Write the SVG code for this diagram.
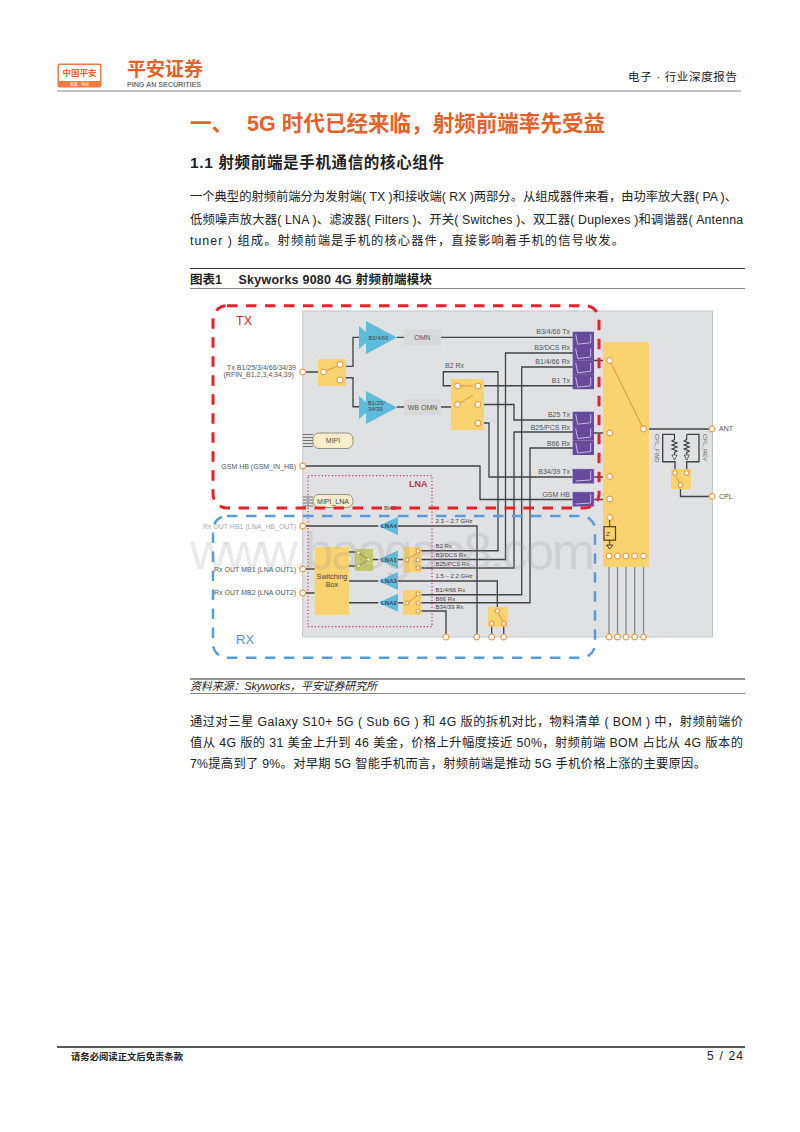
<svg xmlns="http://www.w3.org/2000/svg" xmlns:xlink="http://www.w3.org/1999/xlink" width="800" height="1132" viewBox="0 0 800 1132">
<style>
text{font-family:"Liberation Sans","Noto Sans CJK SC",sans-serif}
.b{font-size:12.3px;fill:#222}
.l{font-size:7px;fill:#555}
.s{font-size:6px;fill:#444}
.w{fill:none;stroke:#444;stroke-width:1.35}
.g{fill:none;stroke:#888;stroke-width:1.3}
.y{fill:#f8d36f}
.c{fill:#fff;stroke:#eaa04f;stroke-width:1.2}
.a{fill:#5dbcdc}
.o{fill:none;stroke:#e8893a;stroke-width:.9}
.gb{fill:#d9d9d9}
.pill{fill:#f8eccb;stroke:#8a8a7a;stroke-width:.9}
.rule{stroke:#333;stroke-width:1}
.rule2{stroke:#888;stroke-width:1}
</style>
<defs>
<g id="fs"><rect width="21.3" height="14.5" fill="#664a9c"/><path d="M3 2.500L5 12.500L18 11L18 2.500" fill="none" stroke="#cfc6e6" stroke-width=".9"/></g>
<g id="fl"><rect width="21.3" height="14.5" fill="#664a9c" stroke="#a997cf" stroke-width=".5"/><path d="M3 12L18 11L18 2" fill="none" stroke="#cfc6e6" stroke-width=".9"/></g>
<circle id="k" r="2.9" class="c"/>
<path id="res" d="M0 0V5L-2.500 6.500L2.500 8.500L-2.500 10.500L2.500 12.500L-2.500 14.500L2.500 16.500L0 18V20" fill="none" stroke="#333" stroke-width="1.1"/>
</defs>
<rect width="800" height="1132" fill="#fff"/>

<g id="header">
<rect x="57.500" y="63.500" width="44" height="24" rx="2" fill="#ee7a45"/>
<rect x="59" y="65" width="41" height="16" fill="#fff"/>
<text x="79.500" y="75.500" text-anchor="middle" font-size="8.500" font-weight="700" fill="#e4622a">中国平安</text>
<text x="79.500" y="86" text-anchor="middle" font-size="4" fill="#fff">金融 · 科技</text>
<text x="127" y="76" font-size="19" font-weight="700" fill="#e4622a">平安证券</text>
<text x="127" y="87" font-size="7.200" font-weight="700" fill="#777" textLength="74">PING AN SECURITIES</text>
<text x="628" y="81" font-size="11.500" fill="#222" textLength="109">电子 · 行业深度报告</text>
<line x1="57" y1="91" x2="741" y2="91" stroke="#888" stroke-width="1"/>
</g>

<g id="headings">
<text x="190" y="131" font-size="21.500" font-weight="700" fill="#e4622a">一、</text>
<text x="247" y="131" font-size="21.500" font-weight="700" fill="#e4622a" textLength="358">5G 时代已经来临，射频前端率先受益</text>
<text x="190" y="168" font-size="15.500" font-weight="700" fill="#222" textLength="254">1.1 射频前端是手机通信的核心组件</text>
</g>

<g id="body-top">
<text class="b" x="190" y="201" textLength="547">一个典型的射频前端分为发射端( TX )和接收端( RX )两部分。从组成器件来看，由功率放大器( PA )、</text>
<text class="b" x="190" y="224" textLength="553">低频噪声放大器( LNA )、滤波器( Filters )、开关( Switches )、双工器( Duplexes )和调谐器( Antenna</text>
<text class="b" x="190" y="245" textLength="434">tuner ) 组成。射频前端是手机的核心器件，直接影响着手机的信号收发。</text>
</g>

<g id="figure-title">
<line class="rule" x1="190" y1="268.500" x2="745" y2="268.500"/>
<text x="190" y="284" font-size="12.500" font-weight="700" fill="#222">图表1</text>
<text x="238.500" y="284" font-size="12.500" font-weight="700" fill="#222" textLength="193.500">Skyworks 9080 4G 射频前端模块</text>
<line class="rule2" x1="190" y1="288.500" x2="745" y2="288.500"/>
</g>

<g id="panel"><rect x="302.700" y="311" width="409.800" height="326" fill="#e0e1e3" stroke="#c4c4c4" stroke-width="1"/></g>

<g id="connectors">
<path class="w" d="M302.700 372H318M346 366.300H353V337.300H359M346 377.700H353V406.700H359"/>
<path class="w" d="M397 337.300H404M441 337.300H573M397 407H404M441 407H451"/>
<path class="w" d="M302.700 466H480V499.500H573M594 499.500H603"/>
<path class="w" d="M451 385.700H443.300V371.700H498V550.700H421"/>
<path class="w" d="M484 385.700H573M484 404.500H514V420H573"/>
<path class="w" d="M484 423H489V477H573M594 477H603"/>
<path class="w" d="M573 353H505.500V559.500H421"/>
<path class="w" d="M573 367H521.700V594.700H421"/>
<path class="w" d="M573 432H514V568H421"/>
<path class="w" d="M573 448H530V602.700H421"/>
<path class="w" d="M594 360.500H603M594 433H603"/>
<path class="w" d="M302.700 526H378M398 526H477V637"/>
<path class="w" d="M398 581H497.300V611"/>
<path class="w" d="M421 611H446V637"/>
<path class="w" d="M491.700 623.500V637M503.700 623.500V637"/>
<path class="w" d="M302.700 569H314.700M302.700 593H314.700M349 552H355M349 566H355M349 581H378M349 602.700H378M373 559.500H378M398 559.500H403M398 602.700H403"/>
<path class="w" d="M643.500 429H712M680.500 485V496.500H712"/>
<path class="w" d="M675 469V461.700H662.700V434.300H675M686.700 469V461.700H699V434.300H686.700"/>
<path class="g" d="M609 567V637M617.500 567V637M626 567V637M634.700 567V637M643.500 567V637"/>
<path d="M303 434.500H313M303 437.500H313M303 440.500H313M303 443.500H313M303 446.500H313M303 497H313M303 500H313M303 503H313M303 506H313" stroke="#555" stroke-width=".8"/>
</g>

<g id="tx-amp-1"><path class="a" d="M359 326L372 337.500L359 349Z"/><path class="a" d="M366 321L397 337.500L366 354Z"/><text class="s" x="368.500" y="339.500" style="font-size:5.800px">B3/4/66</text></g>
<g id="tx-amp-2"><path class="a" d="M359 396L372 407.500L359 419Z"/><path class="a" d="M366 391L397 407.500L366 424Z"/><text class="s" x="368" y="405" style="font-size:5.800px">B1/25/</text><text class="s" x="368" y="411" style="font-size:5.800px">34/39</text></g>
<g id="omn"><rect class="gb" x="404" y="329.500" width="37" height="16"/><text class="l" x="422.500" y="340" text-anchor="middle">OMN</text></g>
<g id="wb-omn"><rect class="gb" x="404" y="399" width="37" height="16"/><text class="l" x="422.500" y="409.500" text-anchor="middle">WB OMN</text></g>

<g id="tx-switch"><rect class="y" x="318" y="359" width="28" height="27"/><path class="o" d="M323 372L340 365"/><use xlink:href="#k" x="323.500" y="372"/><use xlink:href="#k" x="340" y="364.500"/><use xlink:href="#k" x="340" y="380"/></g>
<g id="center-switch"><rect class="y" x="451" y="379" width="33" height="51"/><path class="o" d="M473 386H461M457.500 404.500L473 395"/><use xlink:href="#k" x="457.500" y="386"/><use xlink:href="#k" x="478" y="386"/><use xlink:href="#k" x="457.500" y="404.500"/><use xlink:href="#k" x="478" y="404.500"/><use xlink:href="#k" x="478" y="423"/></g>

<g id="filters-1"><use xlink:href="#fs" x="572.700" y="331.700"/><use xlink:href="#fs" x="572.700" y="346"/><use xlink:href="#fs" x="572.700" y="360.300"/><use xlink:href="#fs" x="572.700" y="374.700"/></g>
<g id="filters-2"><use xlink:href="#fs" x="572.700" y="411.700"/><use xlink:href="#fs" x="572.700" y="426"/><use xlink:href="#fs" x="572.700" y="440.500"/></g>
<g id="filter-b34"><use xlink:href="#fl" x="572.700" y="469"/></g>
<g id="filter-gsm"><use xlink:href="#fl" x="572.700" y="492"/></g>

<g id="antenna-switch"><rect class="y" x="603" y="342" width="46" height="225"/>
<path class="o" d="M643.500 429L611 363"/>
<use xlink:href="#k" x="609.700" y="360.500"/><use xlink:href="#k" x="609.700" y="433"/><use xlink:href="#k" x="609.700" y="476.500"/><use xlink:href="#k" x="609.700" y="499"/><use xlink:href="#k" x="609.700" y="517.500"/><use xlink:href="#k" x="643.500" y="429"/>
<use xlink:href="#k" x="609" y="556"/><use xlink:href="#k" x="617.500" y="556"/><use xlink:href="#k" x="626" y="556"/><use xlink:href="#k" x="634.700" y="556"/><use xlink:href="#k" x="643.500" y="556"/>
<path d="M609.700 520V526.700M609.700 540V545M606.500 545H613L609.700 549Z" fill="none" stroke="#4a4320" stroke-width="1"/>
<rect x="604" y="526.700" width="11.500" height="13.500" fill="none" stroke="#4a4320" stroke-width="1.200"/>
<text x="606" y="535.500" font-size="6" fill="#4a4320">Z</text></g>

<g id="coupler"><rect class="y" x="671" y="469" width="20" height="20"/>
<use xlink:href="#res" x="674.500" y="434.500"/><use xlink:href="#res" x="686.700" y="434.500"/>
<path d="M672 455H677L674.500 460ZM684.200 455H689.200L686.700 460Z" fill="#fff" stroke="#333" stroke-width=".8"/>
<path class="o" d="M675.500 475L680 484"/><circle cx="675" cy="473" r="2.300" class="c"/><circle cx="686.700" cy="473" r="2.300" class="c"/><circle cx="680.500" cy="485" r="2.300" class="c"/>
<text class="s" transform="translate(655 434) rotate(90)" style="fill:#666">CPL_FWD</text>
<text class="s" transform="translate(703 434) rotate(90)" style="fill:#666">CPL_REV</text></g>

<g id="lna-box"><rect x="308" y="475.700" width="124" height="151" fill="none" stroke="#c0395c" stroke-width="1.200" stroke-dasharray="1.200 2.200"/><text x="409" y="487" font-size="9" font-weight="700" fill="#c0304f">LNA</text></g>
<g id="mipi"><rect class="pill" x="313" y="433" width="40" height="15.500" rx="6"/><text class="l" x="333" y="443" text-anchor="middle">MIPI</text></g>
<g id="mipi-lna"><rect class="pill" x="313" y="494.500" width="40" height="13" rx="6"/><text x="333" y="503.500" text-anchor="middle" font-size="7" fill="#444">MIPI_LNA</text></g>

<g id="switching-box"><rect class="y" x="314.700" y="547" width="34.300" height="68"/><text x="332" y="579" font-size="7.200" fill="#444" text-anchor="middle">Switching</text><text x="332" y="587" font-size="7.200" fill="#444" text-anchor="middle">Box</text></g>
<g id="green-switch"><rect x="355" y="549" width="18" height="22" fill="#c5c96a"/><path d="M358.500 553L368.500 559.500L358.500 566" fill="none" stroke="#8a8a30" stroke-width=".9"/><circle cx="358.500" cy="553" r="1.700" fill="#fff" stroke="#9a9a40" stroke-width=".7"/><circle cx="358.500" cy="566" r="1.700" fill="#fff" stroke="#9a9a40" stroke-width=".7"/><circle cx="368.500" cy="559.500" r="1.700" fill="#fff" stroke="#9a9a40" stroke-width=".7"/></g>
<g id="lna4"><path class="a" d="M378 526L398 517V535Z"/><text class="s" x="389" y="528" text-anchor="middle" font-weight="700">LNA4</text></g>
<g id="lna1"><path class="a" d="M378 559.500L398 550.500V568.500Z"/><text class="s" x="389" y="561.500" text-anchor="middle" font-weight="700">LNA1</text></g>
<g id="lna3"><path class="a" d="M378 581L398 572V590Z"/><text class="s" x="389" y="583" text-anchor="middle" font-weight="700">LNA3</text></g>
<g id="lna2"><path class="a" d="M378 602.700L398 593.700V611.700Z"/><text class="s" x="389" y="604.700" text-anchor="middle" font-weight="700">LNA2</text></g>
<g id="rx-switch-1"><rect class="y" x="403" y="547" width="18.500" height="25.500"/><path class="o" d="M407 559.700L417 553"/><circle cx="407" cy="559.700" r="2" class="c"/><circle cx="418" cy="551" r="2" class="c"/><circle cx="418" cy="560" r="2" class="c"/><circle cx="418" cy="568" r="2" class="c"/></g>
<g id="rx-switch-2"><rect class="y" x="403" y="590" width="18.500" height="25"/><path class="o" d="M407 603L417 596"/><circle cx="407" cy="603" r="2" class="c"/><circle cx="418" cy="594" r="2" class="c"/><circle cx="418" cy="603" r="2" class="c"/><circle cx="418" cy="611" r="2" class="c"/></g>
<g id="rx-switch-3"><rect class="y" x="488" y="607" width="19.700" height="20"/><path class="o" d="M498 613L503 621"/><circle cx="497.500" cy="611" r="2.200" class="c"/><circle cx="491.700" cy="623.500" r="2.200" class="c"/><circle cx="503.700" cy="623.500" r="2.200" class="c"/></g>

<g id="pins">
<use xlink:href="#k" x="302.700" y="372"/><use xlink:href="#k" x="302.700" y="466"/><use xlink:href="#k" x="302.700" y="526"/><use xlink:href="#k" x="302.700" y="569"/><use xlink:href="#k" x="302.700" y="593"/>
<use xlink:href="#k" x="446" y="637"/><use xlink:href="#k" x="476.700" y="637"/><use xlink:href="#k" x="491.700" y="637"/><use xlink:href="#k" x="503.700" y="637"/>
<use xlink:href="#k" x="609" y="637"/><use xlink:href="#k" x="617.500" y="637"/><use xlink:href="#k" x="626" y="637"/><use xlink:href="#k" x="634.700" y="637"/><use xlink:href="#k" x="643.500" y="637"/>
<use xlink:href="#k" x="712" y="429"/><use xlink:href="#k" x="712" y="496.500"/>
</g>

<g id="labels">
<text class="l" x="296" y="370" text-anchor="end">Tx B1/25/3/4/66/34/39</text>
<text class="l" x="223.500" y="377">(RFIN_B1,2,3,4,34,39)</text>
<text class="l" x="296" y="468.500" text-anchor="end">GSM HB (GSM_IN_HB)</text>
<text class="l" x="296" y="528.500" text-anchor="end" style="fill:#aaa">Rx OUT HB1 (LNA_HB_OUT)</text>
<text class="l" x="296" y="571.500" text-anchor="end">Rx OUT MB1 (LNA OUT1)</text>
<text class="l" x="296" y="595" text-anchor="end">Rx OUT MB2 (LNA OUT2)</text>
<text class="l" x="445" y="368">B2 Rx</text>
<text class="l" x="570" y="333.700" text-anchor="end">B3/4/66 Tx</text>
<text class="l" x="570" y="350" text-anchor="end">B3/DCS Rx</text>
<text class="l" x="570" y="364" text-anchor="end">B1/4/66 Rx</text>
<text class="l" x="570" y="383.300" text-anchor="end">B1 Tx</text>
<text class="l" x="570" y="416.700" text-anchor="end">B25 Tx</text>
<text class="l" x="570" y="430" text-anchor="end">B25/PCS Rx</text>
<text class="l" x="570" y="445.700" text-anchor="end">B66 Rx</text>
<text class="l" x="570" y="474.300" text-anchor="end">B34/39 Tx</text>
<text class="l" x="570" y="496.700" text-anchor="end">GSM HB</text>
<text class="s" x="435.500" y="522.700">2.3 – 2.7 GHz</text>
<text class="s" x="435.500" y="548">B2 Rx</text>
<text class="s" x="435.500" y="557">B3/DCS Rx</text>
<text class="s" x="435.500" y="566">B25/PCS Rx</text>
<text class="s" x="435.500" y="578">1.5 – 2.2 GHz</text>
<text class="s" x="435.500" y="592">B1/4/66 Rx</text>
<text class="s" x="435.500" y="600.700">B66 Rx</text>
<text class="s" x="435.500" y="609">B34/39 Rx</text>
<text class="l" x="719" y="431">ANT</text>
<text class="l" x="719" y="498.500">CPL</text>
<text class="s" x="384" y="510">BHB</text>
</g>

<g id="regions">
<rect x="213" y="305.700" width="386" height="202.300" rx="14" fill="none" stroke="#e8202a" stroke-width="3" stroke-dasharray="10.500 8.500"/>
<text x="236" y="325" font-size="12.500" fill="#d9232e">TX</text>
<rect x="213" y="516" width="382" height="141.700" rx="14" fill="none" stroke="#5b9bd5" stroke-width="2.500" stroke-dasharray="10.500 8.500"/>
<text x="236" y="644" font-size="13" fill="#5b8fd0">RX</text>
</g>

<g id="watermark"><text x="190" y="569" font-size="52" fill="#9a9a9a" fill-opacity=".22" textLength="405">www.baogao8.com</text></g>

<g id="source">
<line class="rule" x1="190" y1="679" x2="745" y2="679"/>
<text x="190" y="690" font-size="11" font-style="italic" fill="#222" textLength="187">资料来源：Skyworks，平安证券研究所</text>
<line class="rule2" x1="190" y1="693.500" x2="745" y2="693.500"/>
</g>

<g id="body-bottom">
<text class="b" x="190" y="726" textLength="553">通过对三星 Galaxy S10+ 5G ( Sub 6G ) 和 4G 版的拆机对比，物料清单 ( BOM ) 中，射频前端价</text>
<text class="b" x="190" y="747" textLength="553">值从 4G 版的 31 美金上升到 46 美金，价格上升幅度接近 50%，射频前端 BOM 占比从 4G 版本的</text>
<text class="b" x="190" y="768" textLength="516">7%提高到了 9%。对早期 5G 智能手机而言，射频前端是推动 5G 手机价格上涨的主要原因。</text>
</g>

<g id="footer">
<line x1="57" y1="1047" x2="745" y2="1047" stroke="#222" stroke-width="1.500"/>
<text x="71" y="1060" font-size="9.300" font-weight="700" fill="#222" textLength="112">请务必阅读正文后免责条款</text>
<text x="707" y="1060" font-size="12" fill="#222" textLength="36">5 / 24</text>
</g>
</svg>
